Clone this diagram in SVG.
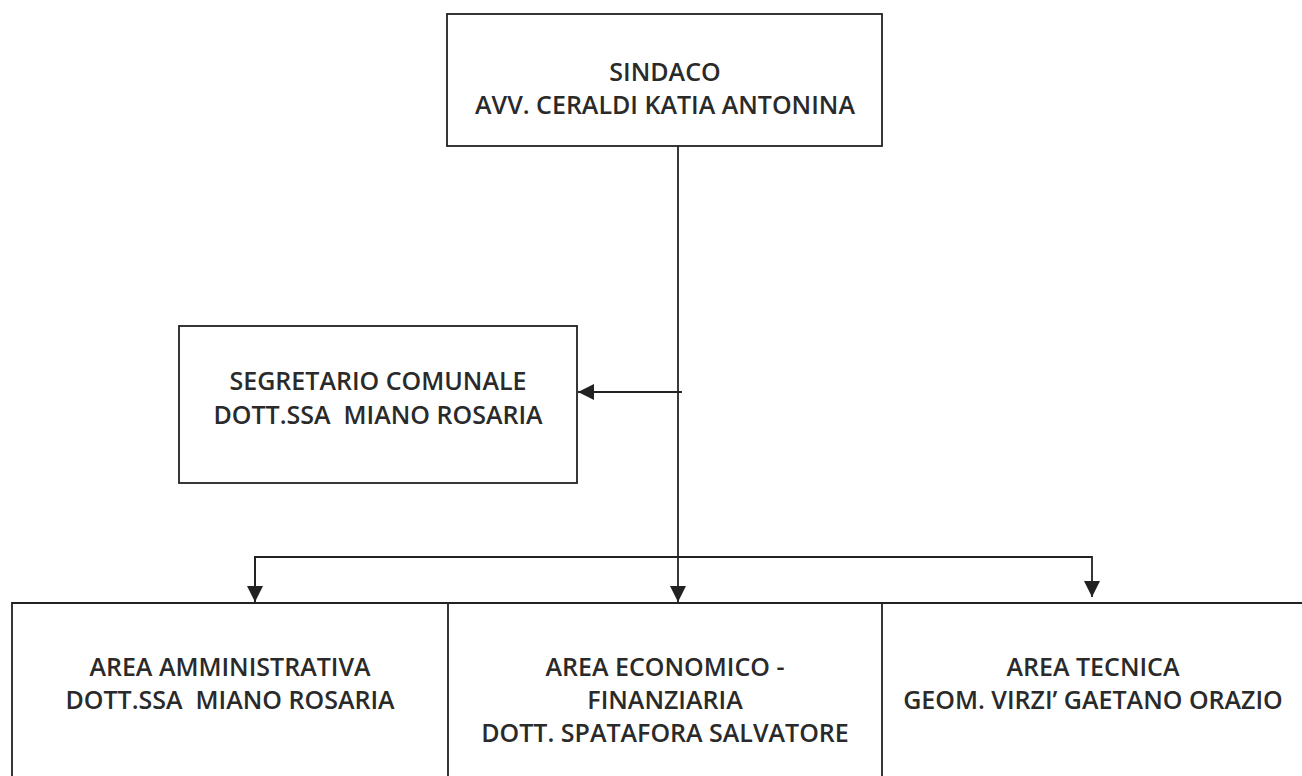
<svg xmlns="http://www.w3.org/2000/svg" width="1302" height="776" viewBox="0 0 1302 776">
<style>
.box{fill:#fff;stroke:#222;stroke-width:1.8}
.t{font-family:"Open Sans","Liberation Sans",sans-serif;font-weight:600;font-size:25px;fill:#2a2a2a;text-anchor:middle}
.c{fill:none;stroke:#222;stroke-width:1.8}
</style>
<defs>
<marker id="ah" viewBox="0 0 16 16" refX="16" refY="8" markerWidth="16" markerHeight="16" markerUnits="userSpaceOnUse" orient="auto">
<path d="M0,0 L16,8 L0,16 Z" fill="#222"/>
</marker>
</defs>
<rect width="1302" height="776" fill="#fff"/>
<g id="sindaco">
<rect class="box" x="447" y="14" width="435" height="132"/>
<text class="t" x="665" y="81">SINDACO</text>
<text class="t" x="665" y="114">AVV. CERALDI KATIA ANTONINA</text>
</g>
<g id="segretario">
<rect class="box" x="179" y="326" width="398" height="157"/>
<text class="t" x="378" y="390">SEGRETARIO COMUNALE</text>
<text class="t" x="378" y="424" xml:space="preserve">DOTT.SSA  MIANO ROSARIA</text>
</g>
<g id="area-amministrativa">
<path class="box" d="M12,790 L12,603 L448,603 L448,790"/>
<text class="t" x="230" y="676">AREA AMMINISTRATIVA</text>
<text class="t" x="230" y="709" xml:space="preserve">DOTT.SSA  MIANO ROSARIA</text>
</g>
<g id="area-economico">
<path class="box" d="M448,603 L882,603"/>
<text class="t" x="665" y="676">AREA ECONOMICO -</text>
<text class="t" x="665" y="709">FINANZIARIA</text>
<text class="t" x="665" y="742">DOTT. SPATAFORA SALVATORE</text>
</g>
<g id="area-tecnica">
<path class="box" d="M882,790 L882,603 L1302,603"/>
<text class="t" x="1093" y="676">AREA TECNICA</text>
<text class="t" x="1093" y="709">GEOM. VIRZI’ GAETANO ORAZIO</text>
</g>
<g id="connectors">
<line class="c" x1="678" y1="146" x2="678" y2="602" marker-end="url(#ah)"/>
<line class="c" x1="682" y1="392" x2="578" y2="392" marker-end="url(#ah)"/>
<path class="c" d="M255,602 L255,557 L1092,557 L1092,597" marker-end="url(#ah)"/>
<path class="c" d="M1092,557 L255,557 L255,602" marker-end="url(#ah)"/>
</g>
</svg>
